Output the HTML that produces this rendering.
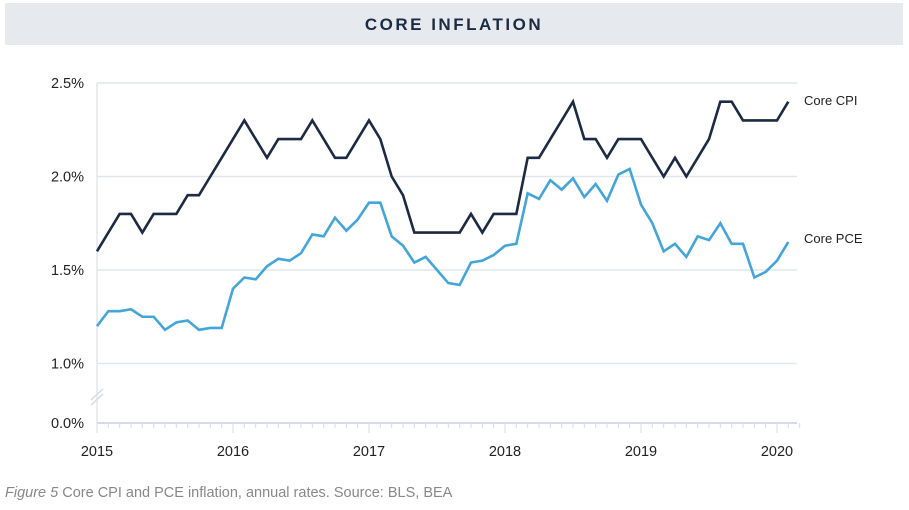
<!DOCTYPE html>
<html><head><meta charset="utf-8"><style>
body{margin:0;background:#fff;width:909px;height:505px;overflow:hidden;font-family:"Liberation Sans",sans-serif}
</style></head><body>
<svg width="909" height="505">
<rect x="5" y="3" width="898" height="42" fill="#e6eaee"/>
<text x="454" y="30" text-anchor="middle" font-size="17" font-weight="bold" letter-spacing="2.5" fill="#1c2a44">CORE INFLATION</text>
<g id="grid"></g><g id="axes"></g><g id="series"></g>
<text x="804" y="105" font-size="13" fill="#222">Core CPI</text>
<text x="804" y="243" font-size="13" fill="#222">Core PCE</text>
<text x="5" y="497" font-size="14.5" fill="#888"><tspan font-style="italic">Figure 5</tspan> Core CPI and PCE inflation, annual rates. Source: BLS, BEA</text>
</svg>
<script>
const yearLabels=["2015","2016","2017","2018","2019","2020"];
const yTicks=[2.5,2.0,1.5,1.0,0.0];
const yTickLabels=["2.5%","2.0%","1.5%","1.0%","0.0%"];
const coreCPI=[1.6,1.7,1.8,1.8,1.7,1.8,1.8,1.8,1.9,1.9,2.0,2.1,
2.2,2.3,2.2,2.1,2.2,2.2,2.2,2.3,2.2,2.1,2.1,2.2,
2.3,2.2,2.0,1.9,1.7,1.7,1.7,1.7,1.7,1.8,1.7,1.8,
1.8,1.8,2.1,2.1,2.2,2.3,2.4,2.2,2.2,2.1,2.2,2.2,
2.2,2.1,2.0,2.1,2.0,2.1,2.2,2.4,2.4,2.3,2.3,2.3,
2.3,2.4];
const corePCE=[1.20,1.28,1.28,1.29,1.25,1.25,1.18,1.22,1.23,1.18,1.19,1.19,
1.40,1.46,1.45,1.52,1.56,1.55,1.59,1.69,1.68,1.78,1.71,1.77,
1.86,1.86,1.68,1.63,1.54,1.57,1.50,1.43,1.42,1.54,1.55,1.58,
1.63,1.64,1.91,1.88,1.98,1.93,1.99,1.89,1.96,1.87,2.01,2.04,
1.85,1.75,1.60,1.64,1.57,1.68,1.66,1.75,1.64,1.64,1.46,1.49,
1.55,1.65];
const NS="http://www.w3.org/2000/svg";
const x0=97,perMonth=136/12;
const xs=i=>x0+i*perMonth;
const ys=v=>v>=0.9?83+(2.5-v)*187:423-v*60;
function mk(t,a,p){const e=document.createElementNS(NS,t);for(const k in a)e.setAttribute(k,a[k]);p.appendChild(e);return e;}
const grid=document.getElementById('grid'),axes=document.getElementById('axes'),ser=document.getElementById('series');
yTicks.forEach((v,i)=>{
 const l=mk('line',{x1:x0,x2:797,y1:ys(v),y2:ys(v),stroke:v===0?'#d5dbe2':'#e3e7ec','stroke-width':v===0?2:1.5},grid);
 
 
 const t=mk('text',{x:84,y:ys(v)+5,'text-anchor':'end','font-size':14.5,fill:'#222'},axes);
 t.textContent=yTickLabels[i];
 
 
});
const ya=mk('line',{x1:x0,x2:x0,y1:83,y2:423,stroke:'#e3e7ec','stroke-width':1.5},axes);


const br=mk('path',{d:'M91 400 L103 389 M91 405 L103 394',stroke:'#d5dbe2','stroke-width':1.5,fill:'none'},axes);


for(let m=0;m<=62;m++){
 const tk=mk('line',{x1:xs(m),x2:xs(m),y1:423,y2:m%12===0?433:428,stroke:'#dde2e8','stroke-width':1.2},axes);
 
 
}
yearLabels.forEach((y,i)=>{
 const t=mk('text',{x:xs(i*12),y:456,'text-anchor':'middle','font-size':14.5,fill:'#222'},axes);
 t.textContent=y;
 
 
});
function line(d,c,n){
 const p=mk('polyline',{points:d.map((v,i)=>xs(i)+','+ys(v)).join(' '),fill:'none',stroke:c,'stroke-width':2.6,'stroke-linejoin':'miter'},ser);
 
 
}
line(corePCE,'#44a5d8','core-pce-line');
line(coreCPI,'#1c2a44','core-cpi-line');
</script>
</body></html>
